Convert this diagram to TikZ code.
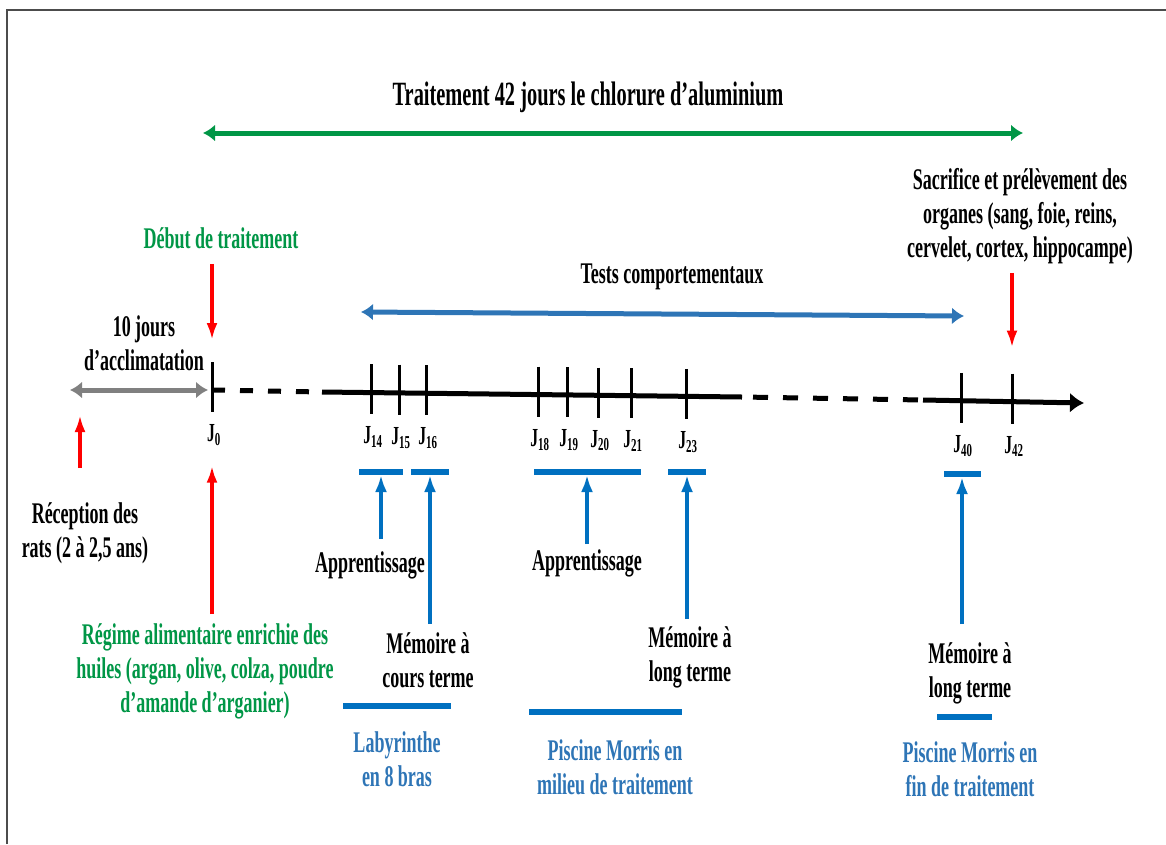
\documentclass[tikz,border=0pt]{standalone}
\usepackage{fontspec}
\setmainfont{Liberation Serif}[FakeStretch=0.6]
\usetikzlibrary{arrows.meta, positioning}

\definecolor{trtgreen}{RGB}{0,150,70}
\definecolor{testblue}{RGB}{0,112,192}
\definecolor{labblue}{RGB}{46,117,182}
\definecolor{acclgrey}{RGB}{128,128,128}

\begin{document}
\begin{tikzpicture}[
  x=1pt, y=-1pt,
  font=\bfseries\fontsize{30}{34}\selectfont,
  lbl/.style={align=center, inner sep=0pt},
  greenlbl/.style={lbl, text=trtgreen},
  bluelbl/.style={lbl, text=labblue},
  daylbl/.style={inner sep=0pt, font=\bfseries\fontsize{26}{28}\selectfont},
  axis/.style={line width=5pt},
  tickmark/.style={line width=3pt},
  span/.style={{Latex[length=12pt,width=17pt]}-{Latex[length=12pt,width=17pt]}, line width=5pt},
  redarrow/.style={-{Latex[length=17pt,width=11pt]}, line width=3.5pt, red},
  bluearrow/.style={-{Latex[length=17pt,width=12pt]}, line width=3.5pt, testblue},
  bar/.style={line width=6pt, testblue}
]
\useasboundingbox (0,0) rectangle (1166,844);
\draw[line width=2.5pt, black!70] (7,844) -- (7,10) -- (1166,10);

% treatment
\node[lbl, font=\bfseries\fontsize{34}{38}\selectfont] (title) at (588,97) {Traitement 42 jours le chlorure d’aluminium};
\coordinate (trtA) at (203,133);
\coordinate (trtB) at (1023,133);
\draw[span, trtgreen] (trtA) -- (trtB);

% time axis
\coordinate (ax1) at (322,392);
\coordinate (ax2) at (742,397);
\coordinate (ax3) at (923,400);
\coordinate (axend) at (1084,403);
\foreach \d/\x in {0/212,14/371,15/399,16/426,18/538,19/567,20/598,21/631,23/686,40/961,42/1012}{
  \pgfmathsetmacro{\ya}{390+(\x-212)*0.0145}
  \coordinate (j\d) at (\x,\ya);
  \draw[tickmark] ({\x},{\ya-28}) -- ({\x},{\ya+22});
  \node[daylbl] (l\d) at ({\x+2},{\ya+45}) {J\textsubscript{\d}};
}
\draw[axis, dash pattern=on 13pt off 15pt] (j0) -- (ax1);
\draw[axis] (ax1) -- (ax2);
\draw[axis, dash pattern=on 15pt off 15pt, dash phase=19pt] (ax2) -- (ax3);
\draw[axis, -{Latex[length=14pt,width=20pt]}] (ax3) -- (axend);

% acclimatation
\coordinate (arrival) at (80,390);
\node[lbl] (accl) at (144,343) {10 jours\\d’acclimatation};
\draw[span, acclgrey, shorten >=4pt] ([xshift=-10pt]arrival) -- (j0);
\node[lbl] (recep) at (85,533) {Réception des\\rats (2 à 2,5 ans)};
\draw[redarrow, shorten <=34pt, shorten >=25pt] (recep.north -| arrival) -- (arrival);

% start of treatment
\node[greenlbl] (debut) at (221,238) {Début de traitement};
\draw[redarrow, shorten <=15pt, shorten >=50pt] (debut.south -| j0) -- (j0);
\node[greenlbl] (regime) at (205,671) {Régime alimentaire enrichie des\\huiles (argan, olive, colza, poudre\\d’amande d’arganier)};
\draw[redarrow, shorten <=9pt, shorten >=20pt] (regime.north -| j0) -- (l0.south -| j0);

% sacrifice
\node[lbl] (sacrif) at (1020,216) {Sacrifice et prélèvement des\\organes (sang, foie, reins,\\cervelet, cortex, hippocampe)};
\draw[redarrow, shorten <=9pt, shorten >=54pt] (sacrif.south -| j42) -- (j42);

% behavioural tests
\node[lbl] (tests) at (672,277) {Tests comportementaux};
\coordinate (testA) at (361,312);
\coordinate (testB) at (964,316);
\draw[span, labblue] (testA) -- (testB);

\coordinate (bar1) at (381,472);
\coordinate (bar2) at (430,472);
\coordinate (bar3) at (587,472);
\coordinate (bar4) at (687,472);
\coordinate (bar5) at (962,474);
\draw[bar] ([xshift=-22pt]bar1) -- ([xshift=22pt]bar1);
\draw[bar] ([xshift=-19pt]bar2) -- ([xshift=19pt]bar2);
\draw[bar] ([xshift=-53pt]bar3) -- ([xshift=54pt]bar3);
\draw[bar] ([xshift=-19pt]bar4) -- ([xshift=19pt]bar4);
\draw[bar] ([xshift=-18pt]bar5) -- ([xshift=19pt]bar5);

\node[lbl] (app1) at (370,565) {Apprentissage};
\node[lbl] (court) at (428,660) {Mémoire à\\cours terme};
\node[lbl] (app2) at (587,563) {Apprentissage};
\node[lbl] (long1) at (690,657) {Mémoire à\\long terme};
\node[lbl] (long2) at (970,673) {Mémoire à\\long terme};
\draw[bluearrow, shorten <=12pt, shorten >=3pt] (app1.north -| bar1) -- (bar1);
\draw[bluearrow, shorten <=8pt, shorten >=3pt] (court.north -| bar2) -- (bar2);
\draw[bluearrow, shorten <=5pt, shorten >=3pt] (app2.north -| bar3) -- (bar3);
\draw[bluearrow, shorten <=7pt, shorten >=3pt] (long1.north -| bar4) -- (bar4);
\draw[bluearrow, shorten <=18pt, shorten >=3pt] (long2.north -| bar5) -- (bar5);

% test groups
\draw[bar] (343,706) -- (451,706);
\draw[bar] (529,712) -- (682,712);
\draw[bar] (937,717) -- (992,717);
\node[bluelbl] (laby) at (397,759) {Labyrinthe\\en 8 bras};
\node[bluelbl] (morris1) at (615,767) {Piscine Morris en\\milieu de traitement};
\node[bluelbl] (morris2) at (970,769) {Piscine Morris en\\fin de traitement};
\end{tikzpicture}
\end{document}
